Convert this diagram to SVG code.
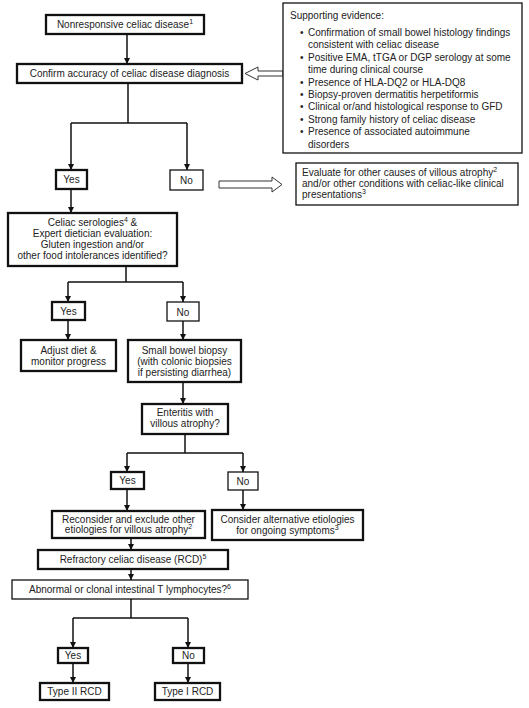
<svg xmlns="http://www.w3.org/2000/svg" width="529" height="708" viewBox="0 0 529 708">
<defs>
<style>
.thick{fill:#fff;stroke:#111;stroke-width:2.3}
.thin{fill:#fff;stroke:#111;stroke-width:1.3}
.t{font-family:"Liberation Sans",Arial,sans-serif;font-size:10px;fill:#222}
.c{text-anchor:middle}
.sup{font-size:7px}
.conn line{stroke:#111;stroke-width:1.5;fill:none}
.arr{marker-end:url(#ah)}
.hollow{fill:#fff;stroke:#333;stroke-width:1}
</style>
<marker id="ah" viewBox="0 0 8 8" refX="8" refY="4" markerWidth="6" markerHeight="7" orient="auto" markerUnits="userSpaceOnUse">
<path d="M0,0 L8,4 L0,8 z" fill="#111"/>
</marker>
</defs>
<rect width="529" height="708" fill="#fff"/>

<g id="connectors" class="conn">
<line class="arr" x1="127" y1="34" x2="127" y2="64"/>
<line x1="128" y1="83" x2="128" y2="123"/>
<line x1="71" y1="123" x2="187" y2="123"/>
<line class="arr" x1="71" y1="123" x2="71" y2="170"/>
<line class="arr" x1="187" y1="123" x2="187" y2="170"/>
<line class="arr" x1="71" y1="189" x2="71" y2="213"/>
<line x1="126" y1="266" x2="126" y2="282"/>
<line x1="68" y1="282" x2="183" y2="282"/>
<line class="arr" x1="68" y1="282" x2="68" y2="302"/>
<line class="arr" x1="183" y1="282" x2="183" y2="302"/>
<line class="arr" x1="68" y1="320" x2="68" y2="340"/>
<line class="arr" x1="183" y1="321" x2="183" y2="340"/>
<line class="arr" x1="183" y1="382" x2="183" y2="404"/>
<line x1="185" y1="434" x2="185" y2="453"/>
<line x1="127" y1="453" x2="243" y2="453"/>
<line class="arr" x1="127" y1="453" x2="127" y2="472"/>
<line class="arr" x1="243" y1="453" x2="243" y2="472"/>
<line class="arr" x1="127" y1="489" x2="127" y2="511"/>
<line class="arr" x1="243" y1="490" x2="243" y2="510"/>
<line class="arr" x1="131" y1="538" x2="131" y2="550"/>
<line class="arr" x1="131" y1="569" x2="131" y2="580"/>
<line x1="131" y1="599" x2="131" y2="618"/>
<line x1="73" y1="618" x2="188" y2="618"/>
<line class="arr" x1="73" y1="618" x2="73" y2="648"/>
<line class="arr" x1="188" y1="618" x2="188" y2="648"/>
<line class="arr" x1="73" y1="663" x2="73" y2="683"/>
<line class="arr" x1="188" y1="663" x2="188" y2="683"/>
<polygon class="hollow" points="245,73.5 258,67 258,71 283,71 283,76 258,76 258,80"/>
<polygon class="hollow" points="219,181 272,181 272,177 282,184.5 272,192 272,188 219,188"/>
</g>

<g id="nonresponsive">
<rect class="thick" x="46" y="15" width="158" height="19"/>
<text class="t c" x="125" y="28">Nonresponsive  celiac disease<tspan class="sup" dy="-4">1</tspan></text>
</g>
<g id="confirm">
<rect class="thick" x="17" y="64" width="225" height="19"/>
<text class="t c" x="129.5" y="77">Confirm  accuracy of celiac disease  diagnosis</text>
</g>
<g id="supporting">
<rect class="thin" x="283" y="3" width="239" height="150"/>
<text class="t" x="290" y="19">Supporting evidence:</text>
<text class="t" x="300" y="36">•</text><text class="t" x="308" y="36">Confirmation  of small bowel  histology findings</text>
<text class="t" x="308" y="48.4">consistent with celiac disease</text>
<text class="t" x="300" y="60.8">•</text><text class="t" x="308" y="60.8">Positive EMA, tTGA or DGP serology at some</text>
<text class="t" x="308" y="73.2">time during clinical course</text>
<text class="t" x="300" y="85.6">•</text><text class="t" x="308" y="85.6">Presence of HLA-DQ2  or HLA-DQ8</text>
<text class="t" x="300" y="98">•</text><text class="t" x="308" y="98">Biopsy-proven  dermatitis herpetiformis</text>
<text class="t" x="300" y="110.4">•</text><text class="t" x="308" y="110.4">Clinical or/and histological response to GFD</text>
<text class="t" x="300" y="122.8">•</text><text class="t" x="308" y="122.8">Strong family history of celiac disease</text>
<text class="t" x="300" y="135.2">•</text><text class="t" x="308" y="135.2">Presence of associated autoimmune</text>
<text class="t" x="308" y="147.6">disorders</text>
</g>
<g id="yes1">
<rect class="thick" x="56" y="170" width="31" height="19"/>
<text class="t c" x="71.5" y="183">Yes</text>
</g>
<g id="no1">
<rect class="thin" x="170" y="170" width="33" height="20"/>
<text class="t c" x="186.5" y="184">No</text>
</g>
<g id="evaluate">
<rect class="thin" x="296" y="163" width="222" height="42"/>
<text class="t" x="302" y="176">Evaluate  for other causes of villous  atrophy<tspan class="sup" dy="-4">2</tspan></text>
<text class="t" x="302" y="187">and/or other conditions with celiac-like clinical</text>
<text class="t" x="302" y="198">presentations<tspan class="sup" dy="-4">3</tspan></text>
</g>
<g id="celiac">
<rect class="thick" x="8" y="213" width="169" height="53"/>
<text class="t c" x="92.5" y="225.5">Celiac serologies<tspan class="sup" dy="-4">4</tspan><tspan dy="4"> &amp;</tspan></text>
<text class="t c" x="92.5" y="236.5">Expert dietician evaluation:</text>
<text class="t c" x="92.5" y="247.5">Gluten ingestion and/or</text>
<text class="t c" x="92.5" y="258.5">other food intolerances identified?</text>
</g>
<g id="yes2">
<rect class="thick" x="52" y="302" width="33" height="18"/>
<text class="t c" x="68.5" y="315">Yes</text>
</g>
<g id="no2">
<rect class="thin" x="167" y="302" width="32" height="19"/>
<text class="t c" x="183" y="315.5">No</text>
</g>
<g id="adjust">
<rect class="thick" x="21" y="340" width="95" height="31"/>
<text class="t c" x="68.5" y="353.5">Adjust diet &amp;</text>
<text class="t c" x="68.5" y="364.5">monitor progress</text>
</g>
<g id="biopsy">
<rect class="thick" x="128" y="340" width="113" height="42"/>
<text class="t c" x="184.5" y="353.5">Small bowel biopsy</text>
<text class="t c" x="184.5" y="364.8">(with colonic biopsies</text>
<text class="t c" x="184.5" y="376">if persisting diarrhea)</text>
</g>
<g id="enteritis">
<rect class="thick" x="142" y="404" width="86" height="30"/>
<text class="t c" x="185" y="415.5">Enteritis with</text>
<text class="t c" x="185" y="426.5">villous  atrophy?</text>
</g>
<g id="yes3">
<rect class="thick" x="111" y="472" width="33" height="17"/>
<text class="t c" x="127.5" y="484">Yes</text>
</g>
<g id="no3">
<rect class="thin" x="228" y="472" width="30" height="18"/>
<text class="t c" x="243" y="484.5">No</text>
</g>
<g id="reconsider">
<rect class="thick" x="52" y="511" width="153" height="27"/>
<text class="t c" x="128.5" y="522.5">Reconsider and exclude other</text>
<text class="t c" x="128.5" y="533">etiologies for villous atrophy<tspan class="sup" dy="-4">2</tspan></text>
</g>
<g id="consider">
<rect class="thick" x="212" y="510" width="151" height="30"/>
<text class="t c" x="287.5" y="522.5">Consider  alternative  etiologies</text>
<text class="t c" x="287.5" y="533.5">for ongoing symptoms<tspan class="sup" dy="-4">3</tspan></text>
</g>
<g id="refractory">
<rect class="thick" x="38" y="550" width="190" height="19"/>
<text class="t c" x="133" y="563">Refractory  celiac disease (RCD)<tspan class="sup" dy="-4">5</tspan></text>
</g>
<g id="abnormal">
<rect class="thin" x="12" y="580" width="236" height="19"/>
<text class="t c" x="130" y="593">Abnormal  or clonal intestinal T lymphocytes?<tspan class="sup" dy="-4">6</tspan></text>
</g>
<g id="yes4">
<rect class="thick" x="58" y="648" width="30" height="15"/>
<text class="t c" x="73" y="659">Yes</text>
</g>
<g id="no4">
<rect class="thick" x="173" y="648" width="31" height="15"/>
<text class="t c" x="188.5" y="659">No</text>
</g>
<g id="type2">
<rect class="thick" x="40" y="683" width="69" height="17"/>
<text class="t c" x="74.5" y="695">Type II RCD</text>
</g>
<g id="type1">
<rect class="thick" x="155" y="683" width="65" height="17"/>
<text class="t c" x="187.5" y="695">Type I RCD</text>
</g>
</svg>
